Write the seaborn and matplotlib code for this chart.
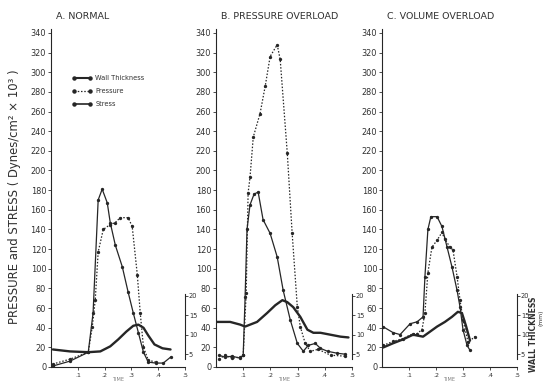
import matplotlib
matplotlib.use("Agg")
import matplotlib.pyplot as plt
from matplotlib.lines import Line2D
import seaborn as sns

# ---- shared axis settings -------------------------------------------------
time_ticks = [1, 2, 3, 4, 5]
time_tick_labels = [".1", ".2", ".3", ".4", ".5"]
stress_ticks = list(range(0, 341, 20))
wall_ticks = [5, 10, 15, 20]

# ---- A. NORMAL --------------------------------------------------------------
a_stress_t = [0.07, 0.71, 1.39, 1.57, 1.76, 1.91, 2.10, 2.21, 2.40, 2.66, 2.88,
              3.07, 3.26, 3.45, 3.63, 3.90, 4.19, 4.46]
a_stress = [1, 6, 15, 55, 170, 181, 167, 147, 124, 102, 76, 55, 35, 15, 5, 4, 4, 10]
a_press_t = [0.07, 0.71, 1.39, 1.54, 1.65, 1.76, 1.95, 2.21, 2.40, 2.58, 2.88,
             3.03, 3.22, 3.33, 3.45, 3.63, 3.90]
a_press = [3, 8, 15, 41, 68, 117, 140, 145, 147, 152, 152, 143, 94, 55, 20, 7, 5]
a_wall_t = [0.07, 0.71, 1.39, 1.84, 2.21, 2.51, 2.81, 3.07, 3.26, 3.45, 3.63,
            3.86, 4.16, 4.46]
a_wall = [6.2, 5.7, 5.5, 5.7, 7.0, 8.8, 10.8, 12.3, 12.6, 11.8, 9.8, 7.5, 6.5, 6.2]

# ---- B. PRESSURE OVERLOAD ---------------------------------------------------
b_stress_t = [0.11, 0.33, 0.59, 0.89, 1.00, 1.07, 1.14, 1.25, 1.40, 1.55, 1.73,
              1.99, 2.25, 2.47, 2.73, 2.99, 3.21, 3.39, 3.65, 3.84, 4.10, 4.46, 4.76]
b_stress = [12, 10, 11, 9, 12, 71, 140, 165, 176, 178, 150, 136, 112, 78, 48, 24,
            16, 22, 24, 19, 16, 14, 13]
b_press_t = [0.11, 0.33, 0.59, 0.89, 1.00, 1.11, 1.18, 1.25, 1.37, 1.62, 1.81,
             1.99, 2.25, 2.36, 2.62, 2.80, 2.99, 3.10, 3.28, 3.47, 3.76, 4.21, 4.76]
b_press = [8, 12, 9, 10, 12, 75, 177, 193, 234, 258, 286, 316, 328, 313, 218, 136,
           61, 41, 24, 16, 18, 12, 11]
b_wall_t = [0.00, 0.52, 0.89, 1.07, 1.51, 1.88, 2.18, 2.44, 2.62, 2.84, 3.10,
            3.36, 3.58, 3.84, 4.21, 4.58, 4.87]
b_wall = [13.3, 13.3, 12.6, 12.1, 13.3, 15.6, 17.6, 18.9, 18.4, 17.1, 14.6, 11.3,
          10.5, 10.5, 10.0, 9.5, 9.3]

# ---- C. VOLUME OVERLOAD -----------------------------------------------------
c_stress_t = [0.04, 0.41, 0.67, 1.04, 1.30, 1.52, 1.59, 1.70, 1.81, 2.04, 2.22,
              2.41, 2.59, 2.78, 2.89, 3.00, 3.15, 3.26]
c_stress = [41, 35, 33, 44, 46, 51, 92, 140, 153, 153, 143, 122, 102, 78, 61, 38,
            22, 17]
c_press_t = [0.04, 0.41, 0.78, 1.15, 1.30, 1.48, 1.59, 1.70, 1.85, 2.04, 2.22,
             2.33, 2.52, 2.63, 2.78, 2.89, 3.00, 3.19, 3.44]
c_press = [22, 26, 29, 34, 34, 38, 55, 96, 122, 129, 137, 130, 122, 119, 92, 68,
           48, 25, 31]
c_wall_t = [0.04, 0.41, 0.78, 1.15, 1.52, 1.78, 2.04, 2.33, 2.59, 2.81, 2.96,
            3.11, 3.26]
c_wall = [6.7, 7.8, 8.8, 10.0, 9.5, 10.8, 12.1, 13.3, 14.6, 15.9, 15.6, 12.3, 8.5]

panel_titles = ["A. NORMAL", "B. PRESSURE OVERLOAD", "C. VOLUME OVERLOAD"]
legend_labels = ["Wall Thickness", "Pressure", "Stress"]

INK = "#262626"
TXT = "#303030"

sns.set_style("ticks")
plt.rcParams["font.family"] = ["DejaVu Sans"]

W, H = 544, 383
fig = plt.figure(figsize=(W / 100, H / 100), dpi=100)

# pixel geometry of each panel: (left, width)
panel_px = [(51, 134), (216, 136), (382, 135)]
top_px, bottom_px = 29, 367

# left scale runs 0..344; the wall-thickness scale is offset so that 5 mm
# sits at 13.1 and each mm spans 3.95 stress units
Y_TOP = 344
def wall_from_left(v):
    return 5 + (v - 13.1) / 3.95

DOT = (0, (1.2, 1.4))

panels = [
    (a_stress_t, a_stress, a_press_t, a_press, a_wall_t, a_wall),
    (b_stress_t, b_stress, b_press_t, b_press, b_wall_t, b_wall),
    (c_stress_t, c_stress, c_press_t, c_press, c_wall_t, c_wall),
]

for i, ((l, w), data, title) in enumerate(zip(panel_px, panels, panel_titles)):
    st, sv, pt, pv, wt, wv = data
    ax = fig.add_axes([l / W, (H - bottom_px) / H, w / W,
                       (bottom_px - top_px) / H])
    sns.lineplot(x=st, y=sv, ax=ax, color=INK, linewidth=0.9, marker="o",
                 markersize=2.4, markeredgewidth=0, sort=False, estimator=None)
    sns.lineplot(x=pt, y=pv, ax=ax, color=INK, linewidth=0.9, linestyle=DOT,
                 marker="o", markersize=2.4, markeredgewidth=0, sort=False,
                 estimator=None)
    ax.set_xlim(0, 5)
    ax.set_ylim(0, Y_TOP)
    ax.set_yticks(stress_ticks)
    ax.set_yticklabels([str(v) for v in stress_ticks])
    ax.set_xticks(time_ticks)
    ax.set_xticklabels(time_tick_labels)
    ax.tick_params(axis="y", direction="out", length=2, width=0.6,
                   labelsize=5.9, pad=1.5, colors=TXT)
    ax.tick_params(axis="x", direction="out", length=2.5, width=0.6,
                   labelsize=4.5, pad=1.5, colors=TXT)
    for s in ("top", "right"):
        ax.spines[s].set_visible(False)
    for s in ("left", "bottom"):
        ax.spines[s].set_linewidth(0.8)
        ax.spines[s].set_color(INK)
    ax.set_xlabel("")
    ax.set_ylabel("")
    ax.text(0.2, 352, title, fontsize=6.8, color=TXT, ha="left",
            va="bottom", clip_on=False)
    ax.text(2.5, -12.5, "TIME", fontsize=3.6, color="#808080", ha="center",
            va="center", clip_on=False)

    tw = ax.twinx()
    sns.lineplot(x=wt, y=wv, ax=tw, color=INK, linewidth=1.7, sort=False,
                 estimator=None)
    tw.set_ylim(wall_from_left(0), wall_from_left(Y_TOP))
    tw.set_yticks(wall_ticks)
    tw.set_yticklabels([str(v) for v in wall_ticks])
    tw.set_ylabel("")
    tw.tick_params(axis="y", direction="out", length=2, width=0.6,
                   labelsize=4.8, pad=0.8, colors=TXT)
    for s in ("top", "left", "bottom"):
        tw.spines[s].set_visible(False)
    tw.spines["right"].set_bounds(3.8, 20.4)
    tw.spines["right"].set_linewidth(0.8)
    tw.spines["right"].set_color(INK)

    if i == 0:
        handles = [
            Line2D([], [], color=INK, linewidth=1.5, marker="o", markersize=2.2),
            Line2D([], [], color=INK, linewidth=0.9, linestyle=DOT, marker="o",
                   markersize=2.2),
            Line2D([], [], color=INK, linewidth=1.2, marker="o", markersize=2.2),
        ]
        fig.legend(handles, legend_labels, loc="upper left",
                   bbox_to_anchor=(72 / W, (H - 75) / H), frameon=False,
                   fontsize=4.8, handlelength=3.0, handletextpad=0.5,
                   labelspacing=1.05, borderpad=0, borderaxespad=0,
                   numpoints=2, labelcolor=TXT)

fig.text(15 / W, (H - 197) / H,
         "PRESSURE and STRESS ( Dynes/cm² × 10³ )",
         rotation=90, ha="center", va="center", fontsize=8.4, color=TXT)
fig.text(533 / W, (H - 334) / H, "WALL THICKNESS", rotation=90,
         ha="center", va="center", fontsize=5.6, color=TXT, fontweight="bold")
fig.text(541 / W, (H - 318) / H, "(mm)", rotation=90, ha="center",
         va="center", fontsize=4.3, color=TXT)

fig.savefig("out.png", dpi=100, facecolor="white")
